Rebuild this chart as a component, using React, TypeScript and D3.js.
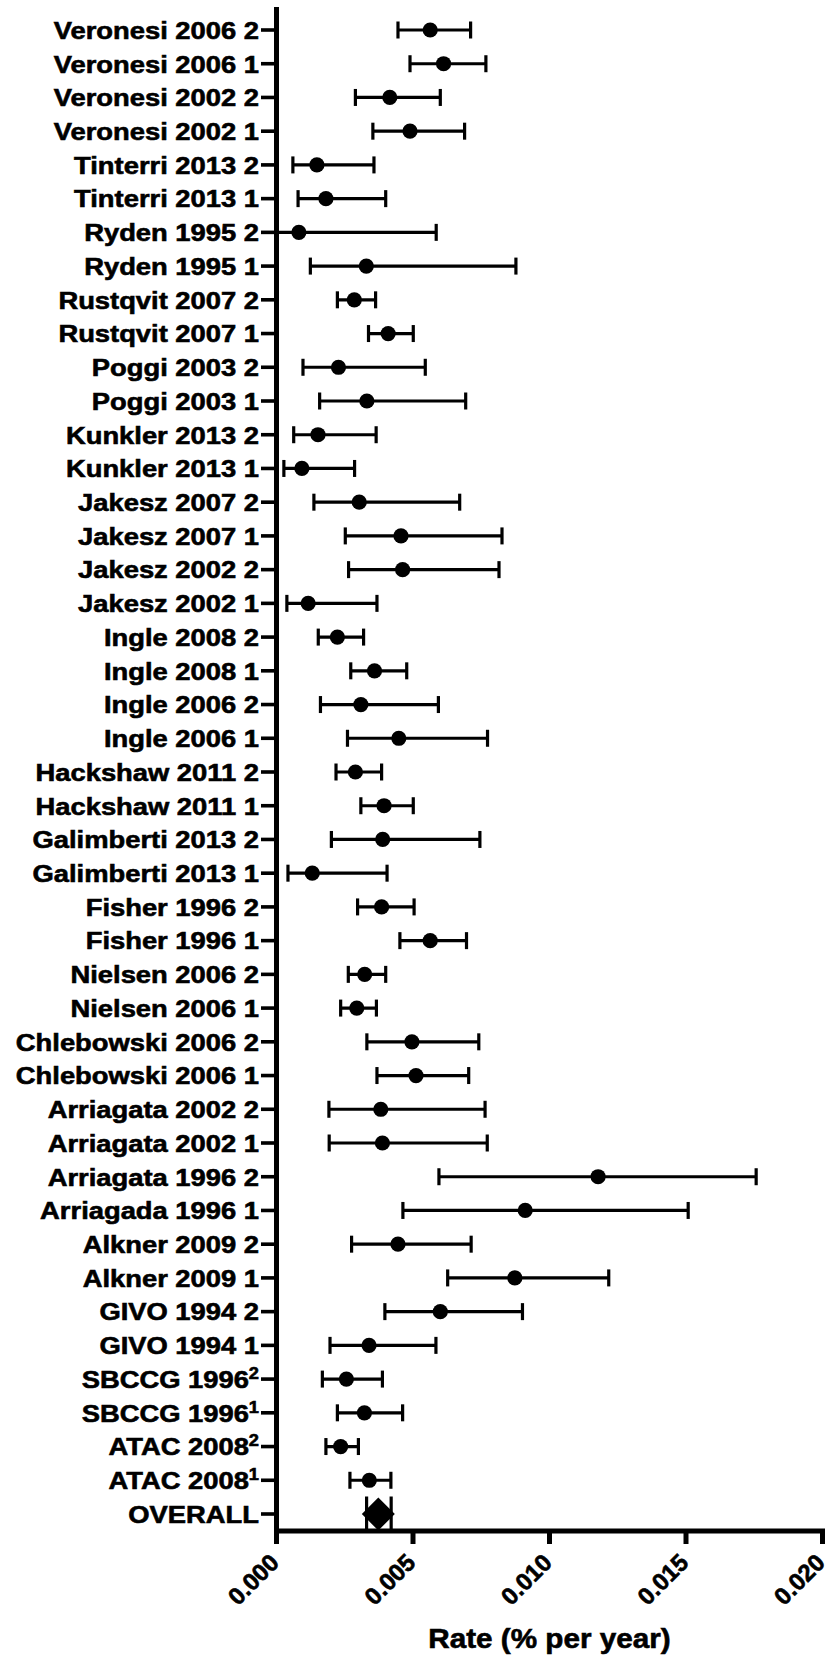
import React from 'react';
import * as d3 from 'd3';

// studies, top to bottom
const studies = [
  'Veronesi 2006 2', 'Veronesi 2006 1', 'Veronesi 2002 2', 'Veronesi 2002 1',
  'Tinterri 2013 2', 'Tinterri 2013 1', 'Ryden 1995 2', 'Ryden 1995 1',
  'Rustqvit 2007 2', 'Rustqvit 2007 1', 'Poggi 2003 2', 'Poggi 2003 1',
  'Kunkler 2013 2', 'Kunkler 2013 1', 'Jakesz 2007 2', 'Jakesz 2007 1',
  'Jakesz 2002 2', 'Jakesz 2002 1', 'Ingle 2008 2', 'Ingle 2008 1',
  'Ingle 2006 2', 'Ingle 2006 1', 'Hackshaw 2011 2', 'Hackshaw 2011 1',
  'Galimberti 2013 2', 'Galimberti 2013 1', 'Fisher 1996 2', 'Fisher 1996 1',
  'Nielsen 2006 2', 'Nielsen 2006 1', 'Chlebowski 2006 2', 'Chlebowski 2006 1',
  'Arriagata 2002 2', 'Arriagata 2002 1', 'Arriagata 1996 2', 'Arriagada 1996 1',
  'Alkner 2009 2', 'Alkner 2009 1', 'GIVO 1994 2', 'GIVO 1994 1',
  'SBCCG 1996', 'SBCCG 1996', 'ATAC 2008', 'ATAC 2008',
];
// superscripts on some labels
const sups = [
  '', '', '', '', '', '', '', '', '', '', '', '', '', '', '', '', '', '', '', '', '', '',
  '', '', '', '', '', '', '', '', '', '', '', '', '', '', '', '', '', '',
  '2', '1', '2', '1',
];

const rates = [
  0.00563, 0.00612, 0.00415, 0.00489, 0.00148, 0.00181, 0.00082, 0.00329,
  0.00285, 0.00409, 0.00227, 0.00331, 0.00152, 0.00093, 0.00303, 0.00456,
  0.00462, 0.00116, 0.00223, 0.00359, 0.00309, 0.00448, 0.00289, 0.00394,
  0.00389, 0.00131, 0.00385, 0.00563, 0.00323, 0.00294, 0.00496, 0.00511,
  0.00382, 0.00388, 0.01178, 0.00911, 0.00445, 0.00873, 0.00600, 0.00339,
  0.00256, 0.00322, 0.00235, 0.00340,
];
const lowers = [
  0.00445, 0.00489, 0.00289, 0.00353, 0.00060, 0.00079, 0.00000, 0.00124,
  0.00223, 0.00337, 0.00097, 0.00158, 0.00063, 0.00027, 0.00137, 0.00252,
  0.00264, 0.00038, 0.00153, 0.00272, 0.00161, 0.00260, 0.00218, 0.00309,
  0.00201, 0.00042, 0.00297, 0.00452, 0.00263, 0.00235, 0.00331, 0.00368,
  0.00192, 0.00193, 0.00595, 0.00463, 0.00275, 0.00627, 0.00397, 0.00196,
  0.00168, 0.00223, 0.00181, 0.00269,
];
const uppers = [
  0.00711, 0.00767, 0.00600, 0.00689, 0.00357, 0.00400, 0.00585, 0.00877,
  0.00363, 0.00501, 0.00545, 0.00693, 0.00365, 0.00286, 0.00671, 0.00826,
  0.00815, 0.00368, 0.00319, 0.00477, 0.00593, 0.00773, 0.00385, 0.00501,
  0.00745, 0.00405, 0.00504, 0.00696, 0.00400, 0.00366, 0.00741, 0.00704,
  0.00764, 0.00772, 0.01757, 0.01508, 0.00713, 0.01217, 0.00901, 0.00584,
  0.00388, 0.00462, 0.00300, 0.00419,
];

const overallLabel = 'OVERALL';
const overallRate = 0.00373;
const overallLow = 0.0033;
const overallHigh = 0.0042;

const xTicks = [0, 0.005, 0.01, 0.015, 0.02];

const font = '"Liberation Sans", Arial, Helvetica, sans-serif';

export default function App() {
  const width = 830;
  const height = 1658;
  const axisX = 276.5;
  const axisY = 1531;

  const x = d3.scaleLinear().domain([0, 0.02]).range([axisX, 822.5]);
  const rows = studies.map((s, i) => s + '|' + i).concat([overallLabel]);
  const y = d3.scalePoint<string>().domain(rows).range([30, 1514]);

  const cap = 8.5;

  return (
    <svg width={width} height={height}
      style={{ position: 'absolute', left: 0, top: 0, display: 'block', background: '#fff' }}
      fontFamily={font} fontWeight="bold">
      {/* error bars */}
      {studies.map((s, i) => {
        const cy = y(rows[i])!;
        return (
          <g key={i} stroke="#000" strokeWidth={3.2}>
            <line x1={x(lowers[i])} x2={x(uppers[i])} y1={cy} y2={cy} />
            <line x1={x(lowers[i])} x2={x(lowers[i])} y1={cy - cap} y2={cy + cap} />
            <line x1={x(uppers[i])} x2={x(uppers[i])} y1={cy - cap} y2={cy + cap} />
            <circle cx={x(rates[i])} cy={cy} r={7.6} fill="#000" stroke="none" />
          </g>
        );
      })}

      {/* overall */}
      {(() => {
        const cy = y(overallLabel)!;
        const cx = x(overallRate);
        const d = 16.5;
        return (
          <g stroke="#000" strokeWidth={3.2}>
            <line x1={x(overallLow)} x2={x(overallHigh)} y1={cy} y2={cy} />
            <line x1={x(overallLow)} x2={x(overallLow)} y1={cy - 17.5} y2={cy + 17.5} />
            <line x1={x(overallHigh)} x2={x(overallHigh)} y1={cy - 17.5} y2={cy + 17.5} />
            <path d={`M${cx - d},${cy} L${cx},${cy - d} L${cx + d},${cy} L${cx},${cy + d} Z`}
              fill="#000" stroke="none" />
          </g>
        );
      })()}

      {/* y axis */}
      <line x1={axisX} x2={axisX} y1={7} y2={axisY + 2.5} stroke="#000" strokeWidth={5} />
      {rows.map((r, i) => {
        const cy = y(r)!;
        const name = i < studies.length ? studies[i] : overallLabel;
        const sup = i < studies.length ? sups[i] : '';
        return (
          <g key={r}>
            <line x1={261} x2={axisX} y1={cy} y2={cy} stroke="#000" strokeWidth={3.6} />
            <text transform={`translate(259,${cy + 8.8}) scale(1.14,1)`} textAnchor="end"
              fontSize={24} fill="#000" stroke="#000" strokeWidth={0.6}>
              {name}
              {sup && <tspan fontSize={16} dy={-9}>{sup}</tspan>}
            </text>
          </g>
        );
      })}

      {/* x axis */}
      <line x1={axisX - 2.5} x2={825} y1={axisY} y2={axisY} stroke="#000" strokeWidth={5} />
      {xTicks.map(t => (
        <g key={t}>
          <line x1={x(t)} x2={x(t)} y1={axisY} y2={1544} stroke="#000" strokeWidth={5} />
          <text transform={`translate(${x(t) + 4},1564) rotate(-45)`} textAnchor="end"
            fontSize={24} fill="#000" stroke="#000" strokeWidth={0.6}>
            {d3.format('.3f')(t)}
          </text>
        </g>
      ))}
      <text transform={`translate(${(axisX + 822.5) / 2},1648) scale(1.06,1)`} textAnchor="middle"
        fontSize={28} fill="#000" stroke="#000" strokeWidth={0.6}>
        Rate (% per year)
      </text>
    </svg>
  );
}
